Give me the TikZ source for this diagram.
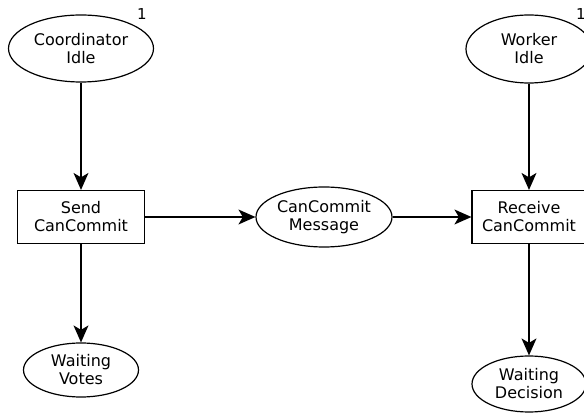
\documentclass[tikz,border=0pt]{standalone}
\usepackage{fontspec}
\setmainfont{DejaVu Sans}
\usetikzlibrary{arrows.meta,shapes.geometric}
\begin{document}
\begin{tikzpicture}[x=1pt,y=1pt,
  every node/.style={font=\fontsize{16}{18}\selectfont, align=center, inner sep=0pt},
  place/.style={draw, line width=1.2pt, ellipse},
  trans/.style={draw, line width=1.2pt, rectangle},
  token/.style={font=\fontsize{15}{17}\selectfont},
  arc/.style={line width=1.2pt, -{Stealth[length=17pt,width=15pt,inset=4.5pt]}}]
  \useasboundingbox (0,0) rectangle (584,415);
  \clip (0,0) rectangle (584,415);
  \fill[white] (0,0) rectangle (584,415);
  % coordinator side
  \node[place, minimum width=145, minimum height=67] (cidle) at (81,366.5) {Coordinator\\Idle};
  \node[trans, minimum width=127, minimum height=53] (send) at (81,198) {Send\\CanCommit};
  \node[place, minimum width=115, minimum height=54] (votes) at (81,45) {Waiting\\Votes};
  % channel
  \node[place, minimum width=136, minimum height=60] (msg) at (324,198) {CanCommit\\Message};
  % worker side
  \node[place, minimum width=126, minimum height=68] (widle) at (529,366) {Worker\\Idle};
  \node[trans, minimum width=114, minimum height=53] (recv) at (529,198) {Receive\\CanCommit};
  \node[place, minimum width=114, minimum height=56] (wdec) at (529,31) {Waiting\\Decision};
  % initial tokens
  \node[token] (tc) at (142,401) {1};
  \node[token] (tw) at (581,401) {1};
  % arcs
  \draw[arc] (cidle) -- (send);
  \draw[arc] (send) -- (votes);
  \draw[arc] (send) -- (msg);
  \draw[arc] (msg) -- (recv);
  \draw[arc] (widle) -- (recv);
  \draw[arc] (recv) -- (wdec);
\end{tikzpicture}
\end{document}
